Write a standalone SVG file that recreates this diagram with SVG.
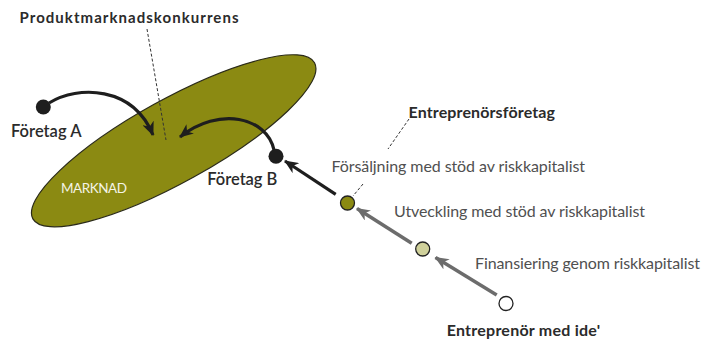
<svg xmlns="http://www.w3.org/2000/svg" width="718" height="343" viewBox="0 0 718 343">
  <defs>
    <style>
      .lbl { font-family: Lato, 'Liberation Sans', sans-serif; }
      .bold { font-weight: bold; fill: #2b2b2b; }
      .semi { font-weight: 600; fill: #2b2b2b; }
      .reg { fill: #505050; }
      .dash { stroke: #333; stroke-width: 1; stroke-dasharray: 3 2; fill: none; }
      .dot { stroke: #222; stroke-width: 1.3; }
      .blk { stroke: #1e1e1e; stroke-width: 3.2; fill: none; }
      .gry { stroke: #6c6c6c; stroke-width: 3.5; fill: none; }
    </style>
    <marker id="headDark" viewBox="0 0 14 12" refX="13" refY="6" markerWidth="14" markerHeight="12" markerUnits="userSpaceOnUse" orient="auto">
      <path d="M0,0 L14,6 L0,12 L4,6 Z" fill="#1e1e1e"/>
    </marker>
    <marker id="headGray" viewBox="0 0 14 12" refX="13" refY="6" markerWidth="14" markerHeight="12" markerUnits="userSpaceOnUse" orient="auto">
      <path d="M0,0 L14,6 L0,12 L4,6 Z" fill="#6c6c6c"/>
    </marker>
  </defs>

  <rect width="718" height="343" fill="#fff"/>

  <!-- market -->
  <g id="marknad">
    <ellipse cx="173.7" cy="140.8" rx="161" ry="41.4" transform="rotate(-29 173.7 140.8)" fill="#8b8a12" stroke="#2a2a18" stroke-width="1.2"/>
    <text class="lbl" x="61" y="193.3" font-size="13.5" fill="#f4f4e6" textLength="66">MARKNAD</text>
  </g>

  <!-- callout labels -->
  <g id="produktmarknadskonkurrens">
    <text class="lbl bold" x="19.5" y="22.7" font-size="15" textLength="219">Produktmarknadskonkurrens</text>
    <path class="dash" d="M147,29 L166,140"/>
  </g>

  <g id="entreprenorsforetag">
    <text class="lbl bold" x="408.5" y="117.7" font-size="16" textLength="146.5">Entreprenörsföretag</text>
    <path class="dash" d="M409,119 L388,149 M363,184 L353,196"/>
  </g>

  <!-- firms -->
  <g id="foretag-a">
    <circle cx="43.3" cy="107" r="7.5" fill="#1e1e1e"/>
    <text class="lbl semi" x="11" y="136.7" font-size="16.5" textLength="70.5">Företag A</text>
  </g>

  <g id="foretag-b">
    <circle cx="276" cy="156.3" r="7.5" fill="#1e1e1e"/>
    <text class="lbl semi" x="207.3" y="185" font-size="16.5" textLength="70">Företag B</text>
  </g>

  <!-- stages -->
  <g id="forsaljning">
    <circle class="dot" cx="347.5" cy="203" r="7" fill="#8b8a12"/>
    <text class="lbl reg" x="331.5" y="171.7" font-size="16" textLength="253.5">Försäljning med stöd av riskkapitalist</text>
  </g>

  <g id="utveckling">
    <circle class="dot" cx="422.7" cy="249" r="7" fill="#d0d19b"/>
    <text class="lbl reg" x="394" y="216.7" font-size="16" textLength="251">Utveckling med stöd av riskkapitalist</text>
  </g>

  <g id="finansiering">
    <text class="lbl reg" x="475" y="269.3" font-size="16" textLength="225">Finansiering genom riskkapitalist</text>
  </g>

  <g id="entreprenor">
    <circle class="dot" cx="506" cy="303.5" r="7" fill="#fff"/>
    <text class="lbl bold" x="446.7" y="336" font-size="16" textLength="153.5">Entreprenör med ide'</text>
  </g>

  <!-- connectors -->
  <g id="connectors">
    <path class="blk" d="M49,103 C78,85 133,86 153,135" marker-end="url(#headDark)"/>
    <path class="blk" d="M274,150 C267,117 219,106 180,137" marker-end="url(#headDark)"/>
    <path class="blk" d="M335.7,194.3 L285,161" stroke-width="3.6" marker-end="url(#headDark)"/>
    <path class="gry" d="M411.7,243.3 L357,208.5" marker-end="url(#headGray)"/>
    <path class="gry" d="M496.7,295 L435.5,257.5" marker-end="url(#headGray)"/>
  </g>
</svg>
